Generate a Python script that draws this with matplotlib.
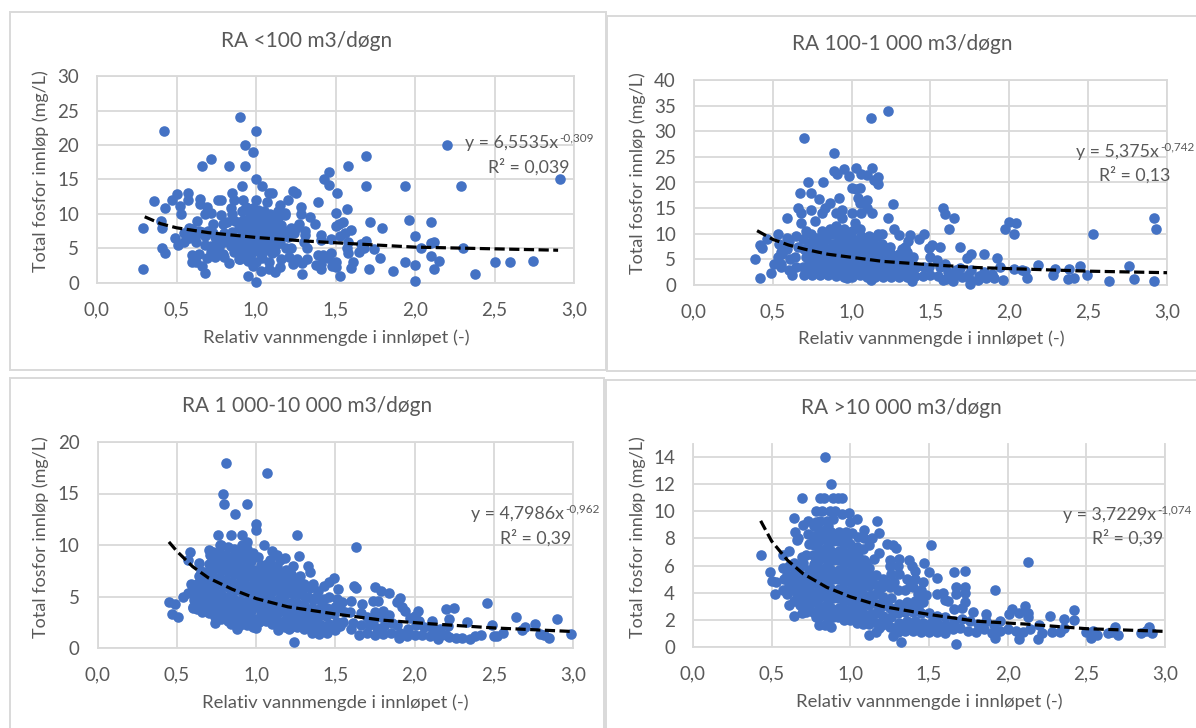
"""Four scatter panels: total phosphorus in the inlet against relative flow, per plant size."""
import numpy as np
import matplotlib; matplotlib.use("Agg")
import matplotlib.pyplot as plt
from matplotlib.patches import Rectangle

W, H = 1196, 728
BLUE = "#4472C4"
GRID = "#D9D9D9"
TXT = "#595959"
plt.rcParams["font.family"] = ["Lato", "DejaVu Sans"]

# values: (relative flow, total P)
pts_small = [
 (0.29,2.1),(0.29,8),(0.36,11.9),(0.40,9),(0.41,8),(0.41,5),(0.42,22),(0.43,4.3),(0.43,10.9),(0.47,12),
 (0.49,6.5),(0.50,12.9),(0.52,11.2),(0.51,5.5),(0.53,10),(0.55,6),(0.57,13),(0.57,12),(0.58,8),(0.60,4),
 (0.60,3),(0.62,6),(0.62,3),(0.63,9),(0.64,4.2),(0.64,7.5),(0.65,12.2),(0.65,11.5),(0.66,17),(0.66,2.5),
 (0.68,1.5),(0.68,10),(0.68,5.5),(0.69,11),(0.69,3.6),(0.72,18),(0.72,10.2),(0.72,5.3),(0.73,7.2),(0.73,8.5),
 (0.74,3.7),(0.75,4.9),(0.76,12),(0.78,12),(0.78,9.8),(0.79,8.5),(0.80,6),(0.80,3.7),(0.83,17),(0.83,2.9),
 (0.85,13),(0.90,24),(0.93,20),(0.98,19),(1.0,22),(0.93,16.9),(0.91,14),(1.0,15),(1.04,14),(1.08,13),
 (1.10,13),(1.07,11.8),(1.0,12),(0.92,12),(0.86,12),(0.84,10.9),(0.85,10),(1.23,13.4),(1.25,13),(1.20,12),
 (1.15,11.3),(1.14,10.5),(1.18,10.2),(1.28,11),(1.28,10),(1.34,9.5),(1.37,8.5),(1.39,11.7),(1.27,8.5),(1.25,8),
 (1.24,7.3),(1.31,7.5),(1.31,6.9),(1.32,5),(1.30,6),(1.41,6.9),(1.41,6.2),(1.39,4.1),(1.42,4),(1.38,2.6),
 (1.41,2.1),(1.41,2.8),(1.45,3.6),(1.47,4.4),(1.48,2.5),(1.50,3.1),(1.50,2.3),(1.53,1),(1.47,6.4),(1.50,8.2),
 (1.52,8.5),(1.55,8.9),(1.50,10.2),(1.57,10.7),(1.43,15),(1.46,16.1),(1.46,14.2),(1.51,13),(1.58,17),(1.69,18.4),
 (1.69,14),(1.60,7.7),(1.56,7.3),(1.53,6.8),(1.58,6),(1.57,5),(1.58,4.3),(1.60,2.2),(1.61,3),(1.65,4.5),
 (1.66,5.6),(1.68,5),(1.69,6.1),(1.72,8.8),(1.71,2),(1.74,4.9),(1.78,3.6),(1.79,7.9),(1.86,1.8),(1.94,14),
 (1.96,9.1),(1.94,3.1),(2.0,6.8),(2.0,2.6),(2.0,0.3),(2.04,5),(2.10,8.8),(2.10,5.8),(2.12,6),(2.10,3.9),
 (2.12,2),(2.15,3.2),(2.20,20),(2.29,14),(2.30,5),(2.38,1.3),(2.50,3),(2.60,3),(2.74,3.2),(2.91,15),
 (1.0,0.2),(0.95,1),(1.03,1.7),(1.08,2),(1.12,1.6),(1.15,2.3),(1.16,3.5),(1.21,3.7),(1.23,2.8),(1.26,3.5),
 (1.29,1.3),(1.29,2.9),(1.32,3.5),(0.98,2.4),(0.90,3.5),(0.55,7.2),(0.58,6.5),(0.60,7.8),(0.62,7),(0.66,7.4),
 (0.68,6.8),(0.70,7.6),(0.74,6.6),(0.72,4.5),(0.77,5.2),(0.79,4.2),(0.80,7.3),(0.82,6.2),(0.82,8.8),(0.84,5.4),
 (0.85,7.4),(0.86,4.5),(0.87,9),(0.88,6.3),(0.89,3.5),(0.89,8),(0.90,5.1),(0.91,10.5),(0.91,7),(0.92,9.2),
 (0.92,4.4),(0.93,6),(0.94,8.3),(0.94,11),(0.95,5),(0.95,3.2),(0.96,7.3),(0.96,9.8),(0.97,6.4),(0.97,4.2),
 (0.98,8.6),(0.98,10.8),(0.99,5.5),(0.99,7.6),(1.0,3.1),(1.0,9.4),(1.0,6.6),(1.01,10.6),(1.01,4.6),(1.02,8.1),
 (1.02,5.6),(1.03,7.1),(1.03,9.6),(1.04,3.6),(1.04,6.1),(1.05,10.4),(1.05,8.6),(1.06,4.8),(1.06,7.4),(1.07,9.4),
 (1.07,5.9),(1.08,3.1),(1.08,8.1),(1.09,6.7),(1.09,10),(1.10,4.4),(1.10,7.6),(1.11,9),(1.12,5.4),(1.12,8.2),
 (1.13,6.3),(1.14,7.3),(1.14,9.4),(1.15,5.8),(1.16,8.4),(1.16,6.8),(1.18,7.6),(1.18,9.8),(1.19,5),(1.20,6.6),
 (1.22,5),(1.22,8),(0.90,6.0),(0.93,7.8),(0.96,5.5),(0.99,4.8),(1.03,4.2),(1.08,5.3),(1.10,8.8),(1.13,7.8),
 (0.84,6.8),(0.87,5.4),(0.91,8.6),(1.17,7.4),(1.21,7.4),(0.78,6.6),(0.75,5.6),(0.95,9.0),(1.04,9.0),(1.12,4.6),
]
pts_medium = [
 (0.39,5),(0.42,1.3),(0.42,7.8),(0.43,7.2),(0.49,2.3),(0.46,9),(0.53,10),(0.51,4),(0.53,5.5),(0.55,6.5),
 (0.55,3.5),(0.59,9.2),(0.59,13),(0.62,2),(0.66,15),(0.68,14),(0.68,12),(0.67,18),(0.70,28.7),(0.72,20),
 (0.74,18),(0.74,14.7),(0.77,12.5),(0.79,16.8),(0.81,14),(0.82,20),(0.83,15),(0.86,16),(0.89,25.7),(0.89,22.2),
 (0.91,21.7),(0.95,22.7),(0.92,17),(0.90,14),(0.94,14.7),(0.98,21.3),(1.0,19),(1.03,18.7),(1.03,22.9),(1.04,17),
 (1.05,19),(1.05,16),(1.06,21.6),(1.10,21.4),(1.12,32.6),(1.13,22.9),(1.14,20.4),(1.17,21),(1.17,19.8),(1.10,16.5),
 (1.10,15),(1.13,14),(1.06,14),(1.0,14),(1.02,12),(1.23,34),(1.23,13),(1.26,15.8),(1.27,11),(1.17,10),
 (1.19,10),(1.30,9.8),(1.37,9.8),(1.36,8.5),(1.43,9),(1.46,10),(1.49,7.2),(1.51,7.9),(1.56,7.5),(1.58,15),
 (1.59,13.9),(1.62,11),(1.65,13),(1.69,7.4),(1.73,5.2),(1.76,6),(1.84,6),(1.92,5.3),(1.94,3.5),(1.97,11),
 (2.0,12.2),(2.04,12),(2.03,10),(2.03,3.2),(2.08,3),(2.10,2.8),(2.11,1.3),(2.18,3.9),(2.28,2),(2.29,3.2),
 (2.37,1.2),(2.38,3.1),(2.41,1.3),(2.45,3.7),(2.49,2),(2.53,10),(2.63,0.8),(2.76,3.7),(2.79,1.2),(2.92,13),
 (2.93,11),(2.92,0.8),(1.96,1),(1.75,0.2),(1.38,0.8),(1.12,1),(0.97,1.3),(1.64,0.8),(1.58,1),
 (0.55,4),(0.56,6),(0.54,8),(0.60,3),(0.61,5),(0.59,7),(0.60,8.5),(0.65,3.5),(0.64,5.5),(0.66,7.5),
 (0.65,9.5),(0.70,2),(0.69,3.5),(0.71,5.5),(0.70,7),(0.69,9),(0.71,10.5),(0.75,2),(0.74,4),(0.76,6),
 (0.75,8),(0.74,10),(0.80,2),(0.79,3.5),(0.81,5),(0.80,7),(0.79,8.5),(0.81,10.5),(0.85,2),(0.84,3.5),
 (0.86,5.5),(0.85,7),(0.84,9),(0.86,11),(0.90,1.8),(0.89,3),(0.91,5),(0.90,6.5),(0.89,8),(0.91,10),
 (0.90,11.5),(0.95,1.5),(0.94,3),(0.96,4.5),(0.95,6),(0.94,8),(0.96,9.5),(0.95,11),(0.94,13),(1.0,1.5),
 (0.99,3),(1.01,4.5),(1.0,6),(0.99,7.5),(1.01,9),(1.0,10.5),(1.05,2),(1.04,3.5),(1.06,5),(1.05,6.5),
 (1.04,8),(1.06,9.5),(1.05,11),(1.10,1.5),(1.09,3),(1.11,4.5),(1.10,6),(1.09,7.5),(1.11,9.5),(1.15,1.5),
 (1.14,3),(1.16,4.5),(1.15,6),(1.14,8),(1.16,9.5),(1.20,1.5),(1.19,3),(1.21,5),(1.20,6.5),(1.19,8),
 (1.25,1.5),(1.24,3),(1.26,4.5),(1.25,6),(1.24,7.5),(1.30,1.5),(1.29,3),(1.31,4.5),(1.30,6),(1.32,7),
 (1.35,1.5),(1.34,3),(1.36,4.5),(1.35,6.5),(1.34,7.5),(1.40,1.8),(1.41,3.5),(1.39,5.5),(1.45,1.8),(1.46,3.5),
 (1.50,2),(1.49,3.5),(1.50,5.5),(1.55,1.8),(1.56,3.5),(1.54,4.8),(1.60,1.2),(1.61,2.5),(1.59,4),(1.65,2),
 (1.66,3),(1.70,1.5),(1.69,3.4),(1.75,1),(1.74,2),(1.76,3),(1.80,1),(1.81,1.8),(1.85,1.4),(1.84,2.6),
 (1.90,1.4),(1.89,2.2),
 (0.72,2.8),(0.73,4.7),(0.72,6.3),(0.73,8.2),(0.77,3),(0.78,5),(0.77,7),(0.78,9.2),(0.82,2.8),(0.83,4.3),
 (0.83,6),(0.82,7.8),(0.83,9.8),(0.87,2.8),(0.88,4.5),(0.87,6.2),(0.88,8),(0.87,10),(0.92,2.4),(0.93,4),
 (0.92,5.8),(0.93,7.3),(0.92,9),(0.97,2.3),(0.98,3.8),(0.97,5.3),(0.98,6.8),(0.97,8.7),(0.98,10.2),(1.02,2.3),
 (1.03,3.8),(1.02,5.3),(1.03,7),(1.02,8.5),(1.07,2.6),(1.08,4.2),(1.07,5.8),(1.08,7.3),(1.07,8.8),(1.12,2.3),
 (1.13,3.8),(1.12,5.3),(1.13,6.8),(1.12,8.5),(1.17,2.3),(1.18,3.8),(1.17,5.5),(1.18,7),(1.22,2.3),(1.23,3.8),
 (1.22,5.6),(1.23,7.2),(1.27,2.3),(1.28,3.8),(1.27,5.3),(1.33,2.3),(1.33,3.8),(1.33,5.3),(1.38,2.5),(1.38,4.3),
]
pts_large = [
 (0.45,4.5),(0.47,3.3),(0.49,4.3),(0.51,3),(0.54,5),(0.57,5.3),(0.57,8.5),(0.58,9.3),(0.59,6.2),(0.60,3.9),
 (0.64,8.3),(0.65,7.2),(0.70,9.5),(0.71,9),(0.74,2.4),(0.76,11),(0.77,10),(0.79,15),(0.80,14),(0.81,18),
 (0.84,11),(0.84,2.3),(0.87,13),(0.88,1.8),(0.91,11),(0.94,14),(0.94,10.3),(1.0,12),(1.0,11.5),(1.0,1.9),
 (1.05,10),(1.07,17),(1.10,9.4),(1.13,9),(1.15,8.5),(1.18,8.7),(1.21,1.8),(1.24,0.6),(1.26,11),(1.27,8.9),
 (1.23,8),(1.33,8),(1.34,7.4),(1.28,7),(1.36,6.2),(1.43,6),(1.46,6.4),(1.49,6.8),(1.52,5.7),(1.63,9.8),
 (1.62,6),(1.63,5.8),(1.67,4.3),(1.66,3.4),(1.75,5.9),(1.79,5.5),(1.84,5.3),(1.74,4.6),(1.77,4.6),(1.89,4.5),
 (1.91,4.9),(1.92,4),(1.94,3.6),(1.97,2.9),(2.0,3.1),(2.02,3.6),(2.03,2.6),(2.11,2.6),(2.20,3.8),(2.25,3.9),
 (2.22,2.8),(2.33,2.5),(2.46,4.4),(2.49,2.2),(2.52,1.2),(2.56,1.5),(2.64,3),(2.68,1.7),(2.70,2),(2.76,2.3),
 (2.79,1.4),(2.82,1.3),(2.85,1),(2.90,2.8),(2.99,1.4),(2.50,1.2),(2.42,1.3),(2.38,1.2),(2.35,0.9),(2.30,1.0),
 (2.26,1),(2.22,1.1),(2.15,0.9),(2.17,1.3),
 (0.60,4),(0.61,4.7),(0.59,5.4),(0.60,6),(0.63,3.8),(0.64,4.6),(0.62,5.4),(0.63,6.2),(0.64,7),(0.66,3.5),
 (0.67,4.3),(0.65,5),(0.66,5.8),(0.67,6.6),(0.65,7.5),(0.70,3.4),(0.71,4.2),(0.69,5),(0.70,5.8),(0.71,6.6),
 (0.69,7.4),(0.70,8.2),(0.74,3),(0.75,3.8),(0.73,4.6),(0.74,5.4),(0.75,6.2),(0.73,7),(0.74,7.8),(0.75,8.6),
 (0.73,9.3),(0.78,2.8),(0.79,3.6),(0.77,4.4),(0.78,5.2),(0.79,6),(0.77,6.8),(0.78,7.6),(0.79,8.4),(0.77,9.2),
 (0.78,10),(0.82,2.6),(0.83,3.4),(0.81,4.2),(0.82,5),(0.83,5.8),(0.81,6.6),(0.82,7.4),(0.83,8.2),(0.81,9),
 (0.82,9.8),(0.86,2.4),(0.87,3.2),(0.85,4),(0.86,4.8),(0.87,5.6),(0.85,6.4),(0.86,7.2),(0.87,8),(0.85,8.8),
 (0.86,9.6),(0.90,2.2),(0.91,3),(0.89,3.8),(0.90,4.6),(0.91,5.4),(0.89,6.2),(0.90,7),(0.91,7.8),(0.89,8.6),
 (0.90,9.4),(0.91,10),(0.94,2.2),(0.95,3),(0.93,3.8),(0.94,4.6),(0.95,5.4),(0.93,6.2),(0.94,7),(0.95,7.8),
 (0.93,8.6),(0.94,9.6),(0.98,2),(0.99,2.8),(0.97,3.6),(0.98,4.4),(0.99,5.2),(0.97,6),(0.98,6.8),(0.99,7.6),
 (0.97,8.4),(0.98,9.2),(1.02,2.5),(1.03,3.3),(1.01,4.1),(1.02,4.9),(1.03,5.7),(1.01,6.5),(1.02,7.3),(1.03,8.1),
 (1.01,8.8),(1.06,2.6),(1.07,3.4),(1.05,4.2),(1.06,5),(1.07,5.8),(1.05,6.6),(1.06,7.4),(1.07,8.2),(1.10,2.3),
 (1.11,3.1),(1.09,3.9),(1.10,4.7),(1.11,5.5),(1.09,6.3),(1.10,7.1),(1.11,7.9),(1.09,8.5),(1.14,1.7),(1.15,2.5),
 (1.13,3.3),(1.14,4.1),(1.15,4.9),(1.13,5.7),(1.14,6.5),(1.15,7.3),(1.13,8),(1.18,2),(1.19,2.8),(1.17,3.6),
 (1.18,4.4),(1.19,5.2),(1.17,6),(1.18,6.8),(1.19,7.6),(1.22,2),(1.23,2.8),(1.21,3.6),(1.22,4.4),(1.23,5.2),
 (1.21,6),(1.22,7.2),(1.26,2),(1.27,2.8),(1.25,3.6),(1.26,4.4),(1.27,5.2),(1.25,6),(1.26,6.6),(1.30,1.8),
 (1.31,2.6),(1.29,3.4),(1.30,4.2),(1.31,5),(1.29,5.6),(1.30,6.2),(1.35,1.5),(1.36,2.3),(1.34,3.1),(1.35,3.9),
 (1.36,4.7),(1.34,5.8),(1.40,1.4),(1.41,2.2),(1.39,3),(1.40,3.8),(1.41,4.6),(1.39,5.5),(1.45,1.5),(1.46,2.3),
 (1.44,3.1),(1.45,3.9),(1.46,5),(1.50,1.7),(1.51,2.5),(1.49,3.3),(1.50,4),(1.51,4.8),(1.55,2.5),(1.56,3.5),
 (1.54,4.5),(1.60,1.8),(1.61,2.4),(1.59,3.5),(1.60,4.6),(1.65,1.3),(1.66,2.2),(1.70,1.5),(1.71,2.2),(1.70,3),
 (1.75,1.3),(1.76,1.9),(1.74,2.6),(1.75,3.5),(1.80,1.4),(1.81,2.1),(1.79,3),(1.80,3.6),(1.85,1.5),(1.86,2.4),
 (1.84,3.2),(1.90,1),(1.91,1.5),(1.89,2.2),(1.95,1.2),(1.96,1.8),(2.0,1.3),(2.01,2.2),(2.05,1.3),(2.06,2),
 (2.10,1.2),(2.11,1.9),(2.15,1.3),(2.16,1.8),(2.20,1.3),(2.21,2.1),
 (0.68,3.8),(0.68,5.4),(0.68,7),(0.72,3.6),(0.72,5.2),(0.72,6.8),(0.72,8.4),(0.76,3.2),(0.76,4.8),(0.76,6.4),
 (0.76,8),(0.80,3),(0.80,4.6),(0.80,6.2),(0.80,7.8),(0.84,3),(0.84,4.6),(0.84,6.2),(0.84,7.8),(0.88,2.6),
 (0.88,4.2),(0.88,5.8),(0.88,7.4),(0.88,9),(0.92,2.6),(0.92,4.2),(0.92,5.8),(0.92,7.4),(0.92,9),(0.96,2.4),
 (0.96,4),(0.96,5.6),(0.96,7.2),(0.96,8.8),(1.0,2.4),(1.0,4),(1.0,5.6),(1.0,7.2),(1.04,2.8),(1.04,4.4),
 (1.04,6),(1.04,7.6),(1.08,2.8),(1.08,4.4),(1.08,6),(1.08,7.6),(1.12,2.6),(1.12,4.2),(1.12,5.8),(1.12,7.4),
 (1.16,2.2),(1.16,3.8),(1.16,5.4),(1.16,7),(1.20,2.4),(1.20,4),(1.20,5.6),(1.20,6.6),(1.24,2.4),(1.24,4),
 (1.24,5.6),(1.28,2.2),(1.28,3.8),(1.28,5.4),(1.33,2),(1.33,3.5),(1.33,5),(1.38,1.9),(1.38,3.4),(1.38,5),
 (1.43,1.9),(1.43,3.4),(1.43,4.8),(1.48,2.1),(1.48,3.6),(1.53,2.1),(1.53,3.9),
]
pts_xlarge = [
 (0.43,6.8),(0.49,5.5),(0.50,4.9),(0.52,3.9),(0.53,4.8),(0.57,6.8),(0.61,7.1),(0.61,3.1),(0.64,2.3),(0.64,9.5),
 (0.65,8.5),(0.67,8),(0.66,7.9),(0.69,11),(0.69,2.5),(0.72,2.6),(0.70,9),(0.73,9.3),(0.78,10),(0.81,11),
 (0.83,11),(0.84,14),(0.82,10),(0.87,10),(0.88,12),(0.89,11),(0.92,11),(0.95,11),(0.90,10),(0.95,9.8),
 (0.99,9.9),(1.04,9.4),(1.0,9.2),(1.17,9.3),(1.18,8.4),(1.14,8),(1.09,8.6),(1.12,7.5),(1.23,7.6),(1.27,7.5),
 (1.29,7.3),(1.18,6.9),(1.15,6.5),(1.25,6.4),(1.31,6.5),(1.37,6.4),(1.39,6),(1.41,5.6),(1.47,6.2),(1.50,5.5),
 (1.51,7.5),(1.55,5.1),(1.66,5.5),(1.73,5.6),(1.67,4.4),(1.73,4.4),(1.67,3.9),(1.73,4),(1.59,4),(1.62,3.4),
 (1.66,2.8),(1.73,3.3),(1.71,2.9),(1.92,4.2),(1.78,2.6),(1.86,2.4),(1.95,1.9),(2.01,2.4),(2.03,2.8),(2.07,2.5),
 (2.11,3),(2.13,2.5),(2.13,2.2),(2.13,6.3),(2.27,2.3),(2.36,2.1),(2.42,2.7),(2.42,2),(2.20,1.6),(2.22,1),
 (2.19,0.6),(2.28,1.1),(2.33,1.1),(2.36,1.4),(2.50,1.1),(2.53,0.7),(2.54,1.2),(2.57,0.9),(2.64,1),(2.66,1.1),
 (2.68,1.5),(2.70,0.9),(2.85,1),(2.88,1.2),(2.90,1.5),(2.92,1),(1.67,0.2),(1.32,0.4),(1.92,0.7),(2.07,0.6),
 (1.12,0.9),(1.27,0.8),
 (0.57,4.2),(0.58,5),(0.57,5.8),(0.60,3.9),(0.61,4.6),(0.60,5.3),(0.61,6),(0.64,3.4),(0.65,4.1),(0.64,4.8),
 (0.65,5.5),(0.64,6.2),(0.68,3.1),(0.69,3.8),(0.68,4.5),(0.69,5.2),(0.68,5.9),(0.69,6.6),(0.72,2.9),(0.73,3.6),
 (0.72,4.3),(0.73,5),(0.72,6.8),(0.73,8.3),(0.76,2.6),(0.77,3.3),(0.76,4),(0.77,4.7),(0.76,5.4),(0.77,6.1),
 (0.76,6.8),(0.77,7.5),(0.76,8.2),(0.77,8.9),(0.80,1.6),(0.81,2.3),(0.80,3),(0.81,3.7),(0.80,4.4),(0.81,5.1),
 (0.80,5.8),(0.81,6.5),(0.80,7.2),(0.81,7.9),(0.80,8.6),(0.81,9.3),(0.84,1.6),(0.85,2.3),(0.84,3),(0.85,3.7),
 (0.84,4.4),(0.85,5.1),(0.84,5.8),(0.85,6.5),(0.84,7.2),(0.85,7.9),(0.84,8.6),(0.85,9.3),(0.88,1.5),(0.89,2.2),
 (0.88,2.9),(0.89,3.6),(0.88,4.3),(0.89,5),(0.88,5.7),(0.89,6.4),(0.88,7.1),(0.89,7.8),(0.88,8.5),(0.89,9.4),
 (0.92,2.2),(0.93,2.9),(0.92,3.6),(0.93,4.3),(0.92,5),(0.93,5.7),(0.92,6.4),(0.93,7.1),(0.92,7.8),(0.93,8.5),
 (0.96,2),(0.97,2.7),(0.96,3.4),(0.97,4.1),(0.96,4.8),(0.97,5.5),(0.96,6.2),(0.97,6.9),(0.96,7.6),(0.97,8.5),
 (1.0,2),(1.01,2.7),(1.0,3.4),(1.01,4.1),(1.0,4.8),(1.01,5.5),(1.0,6.2),(1.01,6.9),(1.0,7.6),(1.01,8.4),
 (1.04,1.8),(1.05,2.5),(1.04,3.2),(1.05,3.9),(1.04,4.6),(1.05,5.3),(1.04,6),(1.05,6.7),(1.04,7.4),(1.05,8.1),
 (1.08,1.7),(1.09,2.4),(1.08,3.1),(1.09,3.8),(1.08,4.5),(1.09,5.2),(1.08,5.9),(1.09,6.4),(1.08,7.2),(1.09,8),
 (1.12,1.7),(1.13,2.4),(1.12,3.1),(1.13,3.8),(1.12,4.5),(1.13,5.2),(1.12,5.8),(1.16,1.1),(1.17,1.8),(1.16,2.5),
 (1.17,3.2),(1.16,3.9),(1.17,4.6),(1.16,5.3),(1.20,1.6),(1.21,2.3),(1.20,3),(1.21,3.7),(1.20,4.4),(1.21,5),
 (1.25,1.5),(1.26,2.2),(1.25,2.9),(1.26,3.6),(1.25,4.4),(1.26,5.4),(1.25,6),(1.30,1.1),(1.31,1.8),(1.30,2.5),
 (1.31,3.2),(1.30,4.2),(1.31,5.4),(1.30,6),(1.35,1.2),(1.36,1.9),(1.35,2.6),(1.36,3.3),(1.35,4.2),(1.36,5),
 (1.40,1.2),(1.41,1.9),(1.40,2.6),(1.41,3.4),(1.40,4.4),(1.41,5),(1.45,1.1),(1.46,1.8),(1.45,2.5),(1.46,3.3),
 (1.45,4.2),(1.46,4.8),(1.50,1.1),(1.51,1.8),(1.50,2.5),(1.55,1.1),(1.56,1.7),(1.55,2.3),(1.55,3.9),(1.60,1),
 (1.61,1.6),(1.60,2.2),(1.60,3.5),(1.65,1.3),(1.66,1.9),(1.70,1.4),(1.71,2.1),(1.75,1.2),(1.76,1.9),(1.80,1.1),
 (1.81,1.7),(1.85,1.3),(1.86,1.9),(1.90,1),(1.91,1.6),(1.95,1.2),(2.0,1.3),(2.05,1.2),(2.10,1.1),(2.14,1.3),
 (0.62,4.4),(0.62,5.1),(0.66,3.7),(0.66,5),(0.70,3.4),(0.70,4.8),(0.70,6.2),(0.74,3.1),(0.74,4.5),(0.74,5.7),
 (0.74,7.6),(0.78,2.2),(0.78,3.6),(0.78,5),(0.78,6.4),(0.78,7.8),(0.78,9.2),(0.82,2.7),(0.82,4.1),(0.82,5.5),
 (0.82,6.9),(0.82,8.3),(0.86,1.9),(0.86,3.3),(0.86,4.7),(0.86,6.1),(0.86,7.5),(0.86,8.9),(0.90,2.5),(0.90,3.9),
 (0.90,5.3),(0.90,6.7),(0.90,8.1),(0.94,2.5),(0.94,3.9),(0.94,5.3),(0.94,6.7),(0.94,8.1),(0.98,2.3),(0.98,3.7),
 (0.98,5.1),(0.98,6.5),(0.98,7.9),(1.02,2.3),(1.02,3.7),(1.02,5.1),(1.02,6.5),(1.06,2.1),(1.06,3.5),(1.06,4.9),
 (1.06,6.3),(1.10,2),(1.10,3.4),(1.10,4.8),(1.10,6.2),(1.14,2),(1.14,3.4),(1.14,4.8),(1.18,1.4),(1.18,2.8),
 (1.18,4.2),(1.23,1.9),(1.23,3.3),(1.23,4.7),(1.28,1.4),(1.28,2.8),(1.28,4.8),(1.33,1.5),(1.33,2.9),(1.38,1.5),
 (1.38,3),(1.38,4.5),(1.43,1.5),(1.43,2.9),(1.43,3.9),(1.48,1.4),(1.48,3.8),(1.53,1.4),(1.53,2.2),(1.58,1.3),
]

# trend lines
trend_small_x = [0.30, 0.40, 0.50, 0.70, 1.00, 1.30, 1.60, 2.00, 2.50, 2.90]
trend_small_y = [9.6, 8.6, 8.0, 7.3, 6.6, 6.1, 5.7, 5.2, 4.95, 4.75]
trend_medium_x = [0.40, 0.50, 0.60, 0.70, 0.85, 1.00, 1.20, 1.50, 1.80, 2.10, 2.50, 3.00]
trend_medium_y = [10.6, 8.9, 7.8, 7.0, 6.0, 5.4, 4.6, 3.95, 3.4, 3.1, 2.7, 2.4]
trend_large_x = [0.45, 0.50, 0.60, 0.70, 0.85, 1.00, 1.20, 1.50, 1.80, 2.10, 2.50, 3.00]
trend_large_y = [10.3, 9.4, 7.9, 6.8, 5.7, 4.8, 4.0, 3.3, 2.7, 2.35, 1.95, 1.6]
trend_xlarge_x = [0.43, 0.50, 0.60, 0.70, 0.85, 1.00, 1.20, 1.50, 1.80, 2.10, 2.50, 3.00]
trend_xlarge_y = [9.3, 7.8, 6.4, 5.4, 4.4, 3.7, 3.0, 2.4, 1.9, 1.7, 1.35, 1.15]

x_ticks = [0.0, 0.5, 1.0, 1.5, 2.0, 2.5, 3.0]
x_ticklabels = ["0,0", "0,5", "1,0", "1,5", "2,0", "2,5", "3,0"]
y_ticks_small = [0, 5, 10, 15, 20, 25, 30]
y_ticks_medium = [0, 5, 10, 15, 20, 25, 30, 35, 40]
y_ticks_large = [0, 5, 10, 15, 20]
y_ticks_xlarge = [0, 2, 4, 6, 8, 10, 12, 14]

panels = [
    dict(pts=pts_small, tx=trend_small_x, ty=trend_small_y, yt=y_ticks_small, ymax=30,
         title="RA <100 m3/døgn", eq="y = 6,5535x", exp="-0,309", r2="R² = 0,039",
         box=(97, 574, 76, 283), frame=(10, 606, 12, 370), title_xy=(307, 41),
         yl_xy=(41, 171), xl_xy=(336, 338), eq_xy=(558, 143), exp_y=138, r2_xy=(570, 167)),
    dict(pts=pts_medium, tx=trend_medium_x, ty=trend_medium_y, yt=y_ticks_medium, ymax=40,
         title="RA 100-1 000 m3/døgn", eq="y = 5,375x", exp="-0,742", r2="R² = 0,13",
         box=(694, 1167, 80, 285), frame=(607, 1200, 16, 371), title_xy=(902, 44),
         yl_xy=(638, 173), xl_xy=(931, 339), eq_xy=(1159, 152), exp_y=147, r2_xy=(1170, 175)),
    dict(pts=pts_large, tx=trend_large_x, ty=trend_large_y, yt=y_ticks_large, ymax=20,
         title="RA 1 000-10 000 m3/døgn", eq="y = 4,7986x", exp="-0,962", r2="R² = 0,39",
         box=(97.6, 573, 442, 648), frame=(10, 604, 378, 740), title_xy=(307, 406),
         yl_xy=(41, 537), xl_xy=(335, 703), eq_xy=(564, 514), exp_y=509, r2_xy=(571, 538)),
    dict(pts=pts_xlarge, tx=trend_xlarge_x, ty=trend_xlarge_y, yt=y_ticks_xlarge, ymax=15,
         title="RA >10 000 m3/døgn", eq="y = 3,7229x", exp="-1,074", r2="R² = 0,39",
         box=(693, 1165, 443.5, 647), frame=(606, 1200, 380, 740), title_xy=(901, 408),
         yl_xy=(638, 537), xl_xy=(929, 702), eq_xy=(1156, 515), exp_y=510, r2_xy=(1163, 538)),
]

fig = plt.figure(figsize=(W / 100, H / 100), dpi=100, facecolor="white")


def put(xy, s, **kw):
    # text placed by pixel position in the reference
    kw.setdefault("ha", "center")
    kw.setdefault("va", "center")
    kw.setdefault("color", TXT)
    fig.text(xy[0] / W, 1 - xy[1] / H, s, **kw)


for p in panels:
    fx0, fx1, fy0, fy1 = p["frame"]
    fig.add_artist(Rectangle((fx0 / W, 1 - fy1 / H), (fx1 - fx0) / W, (fy1 - fy0) / H,
                             transform=fig.transFigure, fc="white", ec=GRID, lw=1.4, zorder=-1))

for p in panels:
    x0, x1, y0, y1 = p["box"]
    ax = fig.add_axes([x0 / W, 1 - y1 / H, (x1 - x0) / W, (y1 - y0) / H], facecolor="none")
    ax.set_xlim(0, 3)
    ax.set_ylim(0, p["ymax"])
    ax.set_xticks(x_ticks, x_ticklabels)
    ax.set_yticks(p["yt"])
    ax.tick_params(length=0, labelsize=13.5, labelcolor=TXT)
    ax.tick_params(axis="y", pad=13)
    ax.tick_params(axis="x", pad=13)
    ax.grid(True, color=GRID, lw=1.3)
    ax.set_axisbelow(True)
    for name, sp in ax.spines.items():
        sp.set_color(GRID)
        sp.set_linewidth(1.3)
    if p["ymax"] == 15:
        ax.spines["top"].set_visible(False)
    xy = np.array(p["pts"])
    ax.scatter(xy[:, 0], xy[:, 1], s=58, color=BLUE, lw=0, clip_on=False, zorder=3)
    ax.plot(p["tx"], p["ty"], color="black", lw=2.3, ls=(0, (3.2, 1.4)), zorder=4, clip_on=False)

    put(p["title_xy"], p["title"], fontsize=15)
    put(p["yl_xy"], "Total fosfor innløp (mg/L)", rotation=90, fontsize=13)
    put(p["xl_xy"], "Relativ vannmengde i innløpet (-)", fontsize=13.3)
    put(p["eq_xy"], p["eq"], ha="right", fontsize=12.8)
    put((p["eq_xy"][0] + 1, p["exp_y"]), p["exp"], ha="left", fontsize=8.5)
    put(p["r2_xy"], p["r2"], ha="right", fontsize=12.8)

fig.savefig("out.png", dpi=100)
print("wrote out.png")
